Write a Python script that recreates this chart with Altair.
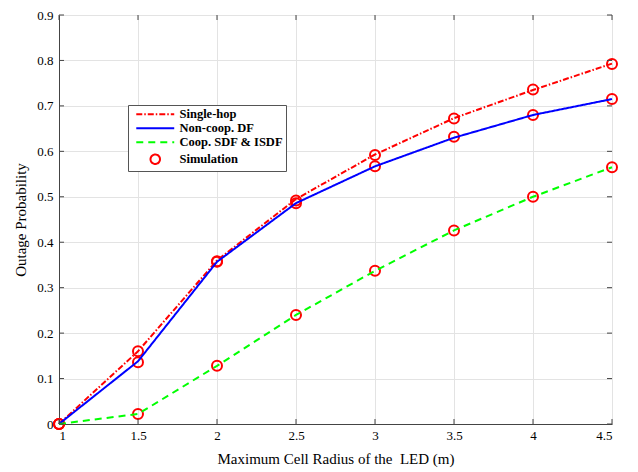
import altair as alt
import pandas as pd

radius = [1, 1.5, 2, 2.5, 3, 3.5, 4, 4.5]
single_hop = [0.0, 0.160, 0.360, 0.495, 0.593, 0.673, 0.735, 0.793]
non_coop = [0.0, 0.138, 0.357, 0.486, 0.567, 0.630, 0.680, 0.715]
coop = [0.0, 0.022, 0.128, 0.240, 0.337, 0.426, 0.500, 0.565]
sim_single = [0.0, 0.160, 0.358, 0.492, 0.592, 0.672, 0.736, 0.792]
sim_non = [0.0, 0.136, 0.357, 0.486, 0.567, 0.632, 0.680, 0.715]
sim_coop = [0.0, 0.022, 0.128, 0.240, 0.337, 0.426, 0.500, 0.565]

names = ["Single-hop", "Non-coop. DF", "Coop. SDF & ISDF", "Simulation"]
x_ticks = [1, 1.5, 2, 2.5, 3, 3.5, 4, 4.5]
y_ticks = [0, 0.1, 0.2, 0.3, 0.4, 0.5, 0.6, 0.7, 0.8, 0.9]

rows = []
for n, vals in zip(names[:3], [single_hop, non_coop, coop]):
    for x, v in zip(radius, vals):
        rows.append({"r": x, "p": v, "series": n})
lines_df = pd.DataFrame(rows)

sim_rows = []
for vals in [sim_single, sim_non, sim_coop]:
    for x, v in zip(radius, vals):
        sim_rows.append({"r": x, "p": v, "series": "Simulation"})
sim_df = pd.DataFrame(sim_rows)

W, H = 553, 409
xs = alt.Scale(domain=[1, 4.5], nice=False, zero=False)
ys = alt.Scale(domain=[0, 0.9], nice=False)

font = "Liberation Serif"
x_axis = alt.Axis(values=x_ticks, format="~g", title="Maximum Cell Radius of the\u00a0 LED (m)",
                  grid=True, gridColor="#e3e3e3", tickSize=0, labelPadding=5,
                  labelFont=font, labelFontSize=13, labelColor="#000", titleFont=font,
                  titleFontSize=15, titleFontWeight="normal", titleColor="#000",
                  titlePadding=9, domainColor="#444")
y_axis = alt.Axis(values=y_ticks, format="~g", title="Outage Probability",
                  grid=True, gridColor="#e3e3e3", tickSize=0, labelPadding=6,
                  labelFont=font, labelFontSize=13, labelColor="#000", titleFont=font,
                  titleFontSize=15, titleFontWeight="normal", titleColor="#000",
                  titlePadding=8, domainColor="#444")

color_scale = alt.Scale(domain=names, range=["#ff0000", "#0000ff", "#00ff00", "#ff0000"])
dash_scale = alt.Scale(domain=names, range=[[6, 2, 1.5, 2], [1, 0], [7, 5], [1, 0]])
shape_scale = alt.Scale(domain=names, range=["M-4,0L4,0", "M-4,0L4,0", "M-4,0L4,0", "circle"])

legend = alt.Legend(title=None, orient="none", legendX=69, legendY=90,
                    labelFont=font, labelFontSize=12.5, labelFontWeight="bold",
                    labelColor="#000", symbolSize=90, symbolStrokeWidth=2,
                    symbolFillColor="transparent",
                    labelOffset=18, rowPadding=1, padding=3, strokeColor="#555",
                    fillColor="white", symbolOffset=18, cornerRadius=0)

points = alt.Chart(sim_df).mark_point(filled=False, size=100, strokeWidth=2, opacity=1).encode(
    x=alt.X("r:Q", scale=xs, axis=x_axis),
    y=alt.Y("p:Q", scale=ys, axis=y_axis),
    color=alt.Color("series:N", scale=color_scale, legend=legend, sort=names),
    shape=alt.Shape("series:N", scale=shape_scale, legend=legend, sort=names),
)

lines = alt.Chart(lines_df).mark_line(strokeWidth=2, interpolate="linear").encode(
    x=alt.X("r:Q", scale=xs),
    y=alt.Y("p:Q", scale=ys),
    color=alt.Color("series:N", scale=color_scale, legend=legend, sort=names),
    strokeDash=alt.StrokeDash("series:N", scale=dash_scale, legend=legend, sort=names),
    detail="series:N",
)

xt = pd.DataFrame({"t": x_ticks})
yt = pd.DataFrame({"t": y_ticks})
tick_color = "#444"
xt_top = alt.Chart(xt).mark_rule(color=tick_color).encode(
    x=alt.X("t:Q", scale=xs), y=alt.value(0), y2=alt.value(5))
xt_bot = alt.Chart(xt).mark_rule(color=tick_color).encode(
    x=alt.X("t:Q", scale=xs), y=alt.value(H), y2=alt.value(H - 5))
yt_left = alt.Chart(yt).mark_rule(color=tick_color).encode(
    y=alt.Y("t:Q", scale=ys), x=alt.value(0), x2=alt.value(5))
yt_right = alt.Chart(yt).mark_rule(color=tick_color).encode(
    y=alt.Y("t:Q", scale=ys), x=alt.value(W), x2=alt.value(W - 5))

chart = alt.layer(points, lines, xt_top, xt_bot, yt_left, yt_right).properties(
    width=W, height=H, autosize="none",
    padding={"left": 51, "top": 7, "right": 10, "bottom": 48},
).configure_view(stroke="#444", strokeWidth=1).configure(background="white")

chart.save("out.html", embed_options={"renderer": "svg", "actions": False})
